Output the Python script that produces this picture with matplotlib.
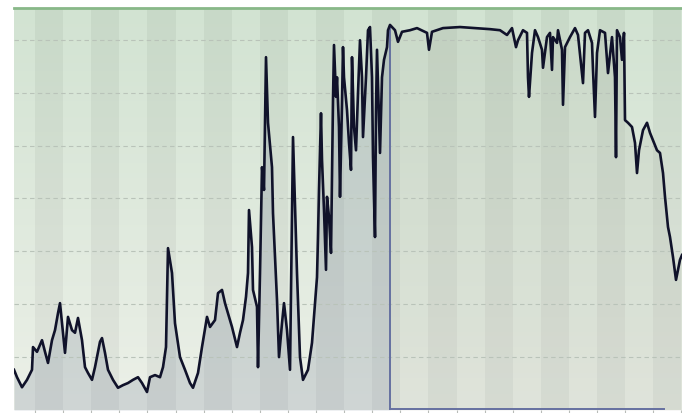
import numpy as np
import matplotlib.pyplot as plt
from matplotlib.colors import LinearSegmentedColormap

# sample index and level
day = [0, 3, 8, 13, 18, 19, 23, 28, 31, 34, 38, 41, 44, 46, 48, 51, 54, 58, 61, 64,
       68, 71, 74, 78, 81, 86, 88, 91, 94, 99, 104, 109, 114, 119, 124, 128, 133, 136, 141, 146,
       149, 152, 154, 158, 161, 166, 171, 176, 179, 184, 188, 193, 196, 201, 204, 208, 211, 214, 218, 223,
       226, 229, 232, 234, 235, 238, 239, 243, 244, 246, 248, 250, 252, 254, 258, 259, 261, 263, 265, 268,
       270, 273, 276, 279, 281, 283, 286, 289, 294, 298, 301, 303, 304, 305, 307, 308, 310, 312, 313, 315,
       317, 318, 319, 320, 322, 323, 325, 326, 328, 329, 330, 333, 335, 337, 338, 340, 342, 344, 346, 348,
       349, 352, 354, 356, 358, 359, 361, 362, 363, 366, 368, 370, 373, 374, 376, 381, 384, 388, 396, 403,
       413, 415, 418, 429, 446, 461, 476, 486, 493, 498, 502, 504, 509, 513, 514, 515, 518, 521, 524, 528,
       529, 533, 536, 538, 539, 543, 544, 548, 549, 551, 556, 561, 564, 569, 571, 574, 578, 579, 581, 583,
       586, 591, 594, 598, 601, 602, 603, 606, 608, 610, 611, 614, 618, 621, 623, 625, 629, 633, 636, 639,
       643, 646, 649, 651, 654, 656, 659, 662, 666, 668]
level = [7.6, 6.2, 4.3, 5.7, 7.6, 11.9, 11.0, 13.2, 11.0, 8.9, 13.2, 15.1, 18.3, 20.2, 16.4, 10.8, 17.6, 15.1, 14.6, 17.4,
         13.2, 8.1, 7.0, 5.7, 8.1, 12.9, 13.6, 10.8, 7.6, 5.7, 4.2, 4.7, 5.1, 5.7, 6.2, 5.1, 3.4, 6.2, 6.6, 6.2,
         8.1, 11.9, 30.6, 25.9, 16.4, 10.0, 7.6, 5.1, 4.2, 7.0, 11.9, 17.6, 15.7, 17.0, 22.1, 22.7, 20.2, 18.3, 15.7, 11.9,
         14.6, 17.0, 21.4, 25.9, 37.8, 30.8, 22.7, 19.5, 8.1, 25.9, 45.9, 41.6, 66.7, 54.3, 45.9, 37.2, 28.9, 20.8, 10.0, 16.4,
         20.2, 15.1, 7.6, 51.6, 38.4, 25.9, 10.0, 5.7, 7.6, 12.7, 20.2, 25.1, 32.7, 41.6, 56.1, 47.3, 37.8, 26.5, 40.3, 36.5,
         29.7, 44.0, 58.6, 69.0, 59.2, 62.9, 53.5, 40.3, 58.0, 68.6, 62.9, 56.7, 50.5, 45.4, 66.7, 53.5, 49.1, 59.9, 69.9, 62.9,
         51.6, 62.9, 71.8, 72.4, 62.9, 47.8, 32.7, 56.7, 68.1, 48.6, 62.9, 66.2, 68.6, 71.8, 72.8, 71.8, 69.6, 71.5, 71.8, 72.2,
         71.3, 68.1, 71.5, 72.2, 72.4, 72.2, 72.0, 71.8, 70.9, 72.2, 68.6, 69.9, 71.8, 71.3, 62.9, 59.2, 67.5, 71.8, 70.5, 68.1,
         64.7, 70.5, 71.3, 64.3, 70.5, 69.4, 71.8, 68.1, 57.7, 68.6, 70.5, 72.2, 70.9, 61.8, 71.3, 71.8, 69.4, 64.3, 55.4, 67.5,
         71.8, 71.3, 63.7, 70.5, 62.9, 47.8, 71.8, 70.5, 66.2, 71.3, 54.8, 54.3, 53.5, 50.5, 44.8, 49.1, 52.9, 54.3, 52.4, 51.0,
         49.1, 48.6, 44.8, 40.3, 34.6, 32.7, 28.9, 24.6, 28.4, 29.3]

grid_levels = [10, 20, 30, 40, 50, 60, 70]
sel_start, sel_end = 376, 650

X_MAX = 668
Y_MAX = 76
STRIPE = 28.1

x = np.array(day, dtype=float)
y = np.array(level)

fig = plt.figure(figsize=(6.82, 4.13), dpi=100)
ax = fig.add_axes([14 / 682, 3 / 413, 668 / 682, 402 / 413])

# vertical background gradient, green at top, paler at bottom
bg = LinearSegmentedColormap.from_list("bg", ["#ecf0e8", "#d2e3d2"])
grad = np.linspace(0, 1, 256).reshape(-1, 1)
ax.imshow(grad, extent=[0, X_MAX, 0, Y_MAX], origin="lower", aspect="auto",
          cmap=bg, zorder=0)

# alternating stripes
for x0 in np.arange(21, X_MAX, STRIPE * 2):
    ax.axvspan(x0, x0 + STRIPE, color="black", alpha=0.045, lw=0, zorder=1)

# fill under the line
left = x <= sel_start
right = x >= sel_start
ax.fill_between(x[left], y[left], 0, color="#7c889c", alpha=0.25, lw=0, zorder=2)
ax.fill_between(x[right], y[right], 0, color="#a0a898", alpha=0.16, lw=0, zorder=2)

# selection outline
sel_top = np.interp(sel_start, x, y)
ax.plot([sel_start, sel_start], [0, sel_top], color="#6570a0", lw=1.4, zorder=3)
ax.plot([sel_start, sel_end], [0.15, 0.15], color="#6570a0", lw=1.4, zorder=3,
        clip_on=False)

ax.plot(x, y, color="#10122a", lw=1.9, zorder=5, solid_joinstyle="round")

ax.set_xlim(0, X_MAX)
ax.set_ylim(0, Y_MAX)
ax.set_yticks(grid_levels)
ax.yaxis.grid(True, linestyle=(0, (4, 3)), color="#b9c3b9", lw=0.8, zorder=1.5)
ax.set_axisbelow(False)
ax.set_xticks(np.arange(21, X_MAX, STRIPE))
ax.tick_params(axis="x", length=3, color="#b8bcb8", labelbottom=False)
ax.tick_params(axis="y", length=0, labelleft=False)

for side in ["left", "right", "bottom"]:
    ax.spines[side].set_visible(False)
ax.spines["top"].set_color("#88b888")
ax.spines["top"].set_linewidth(2)

fig.savefig("out.png", dpi=100)
